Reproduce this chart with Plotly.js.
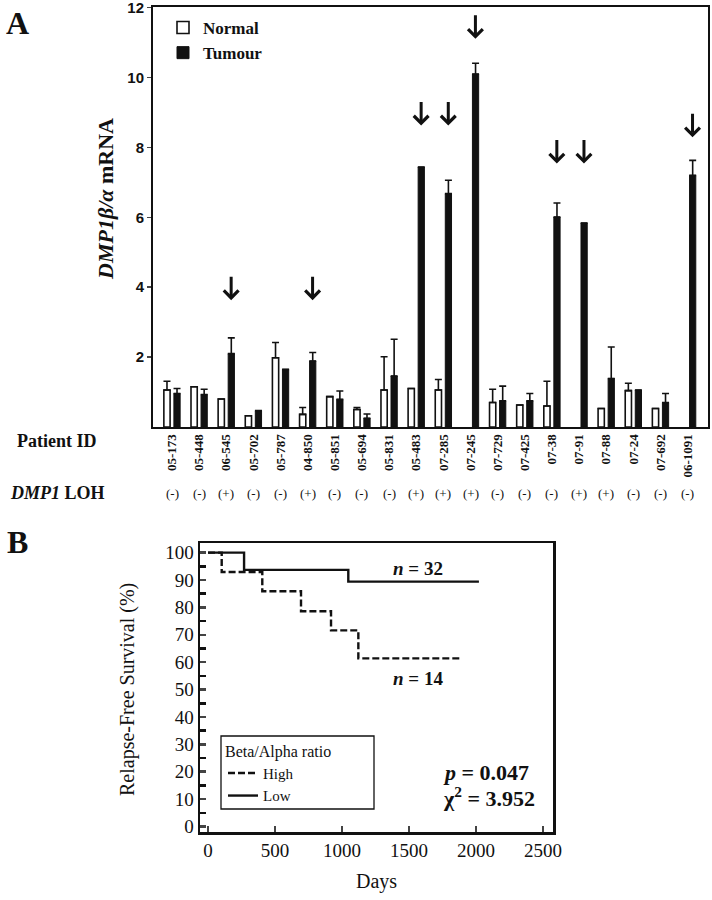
<!DOCTYPE html>
<html><head><meta charset="utf-8">
<script src="https://cdn.plot.ly/plotly-3.0.1.min.js"></script>
<style>html,body{margin:0;padding:0;background:#fff}</style>
</head><body><div id="chart" style="width:712px;height:900px"></div>
<script>
// ---- Panel A data ----
const patientIds = ['05-173','05-448','06-545','05-702','05-787','04-850','05-851','05-694','05-831','05-483',
                    '07-285','07-245','07-729','07-425','07-38','07-91','07-88','07-24','07-692','06-1091'];
const lohStatus = ['(-)','(-)','(+)','(-)','(-)','(+)','(-)','(-)','(-)','(+)',
                   '(+)','(+)','(-)','(-)','(-)','(+)','(+)','(-)','(-)','(-)'];
const normalValues = [1.06,1.15,0.80,0.32,1.98,0.36,0.87,0.50,1.06,1.10,
                      1.06,null,0.70,0.63,0.60,null,0.53,1.04,0.53,null];
const normalErrors = [0.25,null,null,null,0.44,0.20,null,0.06,0.95,null,
                      0.30,null,0.38,null,0.71,null,null,0.21,null,null];
const tumourValues = [0.96,0.93,2.10,0.47,1.65,1.89,0.79,0.25,1.46,7.44,
                      6.68,10.10,0.75,0.75,6.01,5.84,1.39,1.06,0.70,7.20];
const tumourErrors = [0.14,0.15,0.45,null,null,0.24,0.24,0.12,1.05,null,
                      0.38,0.31,0.42,0.21,0.40,null,0.90,null,0.26,0.43];
const arrowPatients = ['06-545','04-850','05-483','07-285','07-245','07-38','07-91','06-1091'];
const arrowTips = [3.63,3.63,8.63,8.63,11.11,7.54,7.54,8.29];
const yTicksA = [2,4,6,8,10,12];

// ---- Panel B data ----
const highDays = [0,102,405,694,918,1122,1893];
const highSurvival = [100,92.9,85.9,78.6,71.6,61.4,61.4];
const lowDays = [0,269,1047,2022];
const lowSurvival = [100,93.7,89.4,89.4];

const serif = 'Liberation Serif, Times New Roman, serif';
const W = 712, H = 900;
const px = v => v / W;
const py = v => 1 - v / H;

const zeros = patientIds.map(() => 0);

const traces = [
  {type:'bar', name:'Normal', x:patientIds, y:normalValues, width:0.23, offset:-0.30,
   marker:{color:'#ffffff', line:{color:'#111', width:1.6}},
   error_y:{type:'data', symmetric:false, array:normalErrors, arrayminus:zeros, color:'#111', thickness:1.6, width:3.5},
   xaxis:'x', yaxis:'y', legend:'legend'},
  {type:'bar', name:'Tumour', x:patientIds, y:tumourValues, width:0.23, offset:0.07,
   marker:{color:'#111', line:{color:'#111', width:1}},
   error_y:{type:'data', symmetric:false, array:tumourErrors, arrayminus:zeros, color:'#111', thickness:1.6, width:3.5},
   xaxis:'x', yaxis:'y', legend:'legend'},
  {type:'scatter', mode:'lines', name:'High', x:highDays, y:highSurvival, line:{shape:'hv', color:'#111', width:2.4, dash:'7px,3px'},
   xaxis:'x2', yaxis:'y2', legend:'legend2'},
  {type:'scatter', mode:'lines', name:'Low', x:lowDays, y:lowSurvival, line:{shape:'hv', color:'#111', width:2.4},
   xaxis:'x2', yaxis:'y2', legend:'legend2'}
];

function note(text, x, y, size, extra) {
  return Object.assign({text:text, x:px(x), y:py(y), xref:'paper', yref:'paper', showarrow:false,
    xanchor:'center', yanchor:'middle', font:{family:serif, size:size, color:'#111'}}, extra || {});
}

const annotations = [
  note('<b>A</b>', 17, 23, 32),
  note('<b>B</b>', 17, 542, 32),
  note('<b><i>DMP1β/α</i> mRNA</b>', 105, 199, 22, {textangle:-90}),
  note('<b>Patient ID</b>', 57, 441, 18),
  note('<b><i>DMP1</i> LOH</b>', 57, 493, 18),
  note('Relapse-Free Survival (%)', 127, 690, 20, {textangle:-90}),
  note('<b><i>n</i> = 32</b>', 418, 568, 19),
  note('<b><i>n</i> = 14</b>', 418, 678, 19),
  note('<b><i>p</i> = 0.047</b>', 441, 772, 22, {xanchor:'left'}),
  note('<b>χ<sup>2</sup> = 3.952</b>', 441, 797, 22, {xanchor:'left'})
];
lohStatus.forEach((s, i) => {
  annotations.push({text:s, x:patientIds[i], y:py(493), xref:'x', yref:'paper', showarrow:false,
    xanchor:'center', yanchor:'middle', font:{family:serif, size:13, color:'#111'}});
});
arrowPatients.forEach((p, i) => {
  annotations.push({text:'', x:patientIds.indexOf(p) + 0.18, y:arrowTips[i], xref:'x', yref:'y',
    showarrow:true, arrowhead:4, arrowwidth:3, arrowsize:0.95, arrowcolor:'#111', ax:0, ay:-25});
});

const layout = {
  width:W, height:H, margin:{l:0, r:0, t:0, b:0},
  paper_bgcolor:'#fff', plot_bgcolor:'#fff', barmode:'overlay',
  xaxis:{domain:[px(153), px(708)], range:[-0.7, 19.75], type:'category', tickangle:-90,
    tickfont:{family:serif, size:13, color:'#111', weight:'bold'}, ticks:'', showline:true, mirror:true,
    linecolor:'#111', linewidth:2, showgrid:false, zeroline:false, anchor:'y'},
  yaxis:{domain:[py(427), py(7)], range:[0, 12.02], tickvals:yTicksA, ticks:'outside', ticklen:4, tickwidth:1.5,
    ticklabeloverflow:'allow',
    tickfont:{family:'Liberation Sans, Arial, sans-serif', size:15, color:'#111', weight:'bold'},
    showline:true, mirror:true, linecolor:'#111', linewidth:2, showgrid:false, zeroline:false, anchor:'x'},
  xaxis2:{domain:[px(200), px(553)], range:[-60, 2575], tick0:0, dtick:500, ticks:'inside', ticklen:6, tickwidth:2.5,
    tickfont:{family:serif, size:19, color:'#111'}, showline:true, mirror:true, linecolor:'#111', linewidth:2.5,
    showgrid:false, zeroline:false, anchor:'y2',
    title:{text:'Days', font:{family:serif, size:20, color:'#111'}, standoff:14}},
  yaxis2:{domain:[py(832), py(543)], range:[-2, 103.5], tick0:0, dtick:10, ticks:'inside', ticklen:6, tickwidth:2.5,
    minor:{dtick:5, ticks:'inside', ticklen:6, tickwidth:2.5, tickcolor:'#111'},
    tickfont:{family:serif, size:19, color:'#111'}, showline:true, mirror:true, linecolor:'#111', linewidth:2.5,
    showgrid:false, zeroline:false, anchor:'x2'},
  legend:{x:px(163), y:py(10), xanchor:'left', yanchor:'top', bgcolor:'rgba(0,0,0,0)', borderwidth:0,
    font:{family:serif, size:17, color:'#111', weight:'bold'}, itemclick:false},
  legend2:{x:px(223), y:py(736), xanchor:'left', yanchor:'top', bgcolor:'rgba(0,0,0,0)', borderwidth:0,
    title:{text:'Beta/Alpha ratio', font:{family:serif, size:16, color:'#111'}},
    font:{family:serif, size:15, color:'#111'}, itemclick:false},
  shapes:[
    {type:'rect', xref:'paper', yref:'paper', x0:px(221), x1:px(374), y0:py(736), y1:py(809),
     line:{color:'#111', width:1.3}, fillcolor:'rgba(0,0,0,0)'}
  ],
  annotations:annotations,
  showlegend:true
};

Plotly.newPlot('chart', traces, layout, {staticPlot:true, displayModeBar:false});
</script>
</body></html>
